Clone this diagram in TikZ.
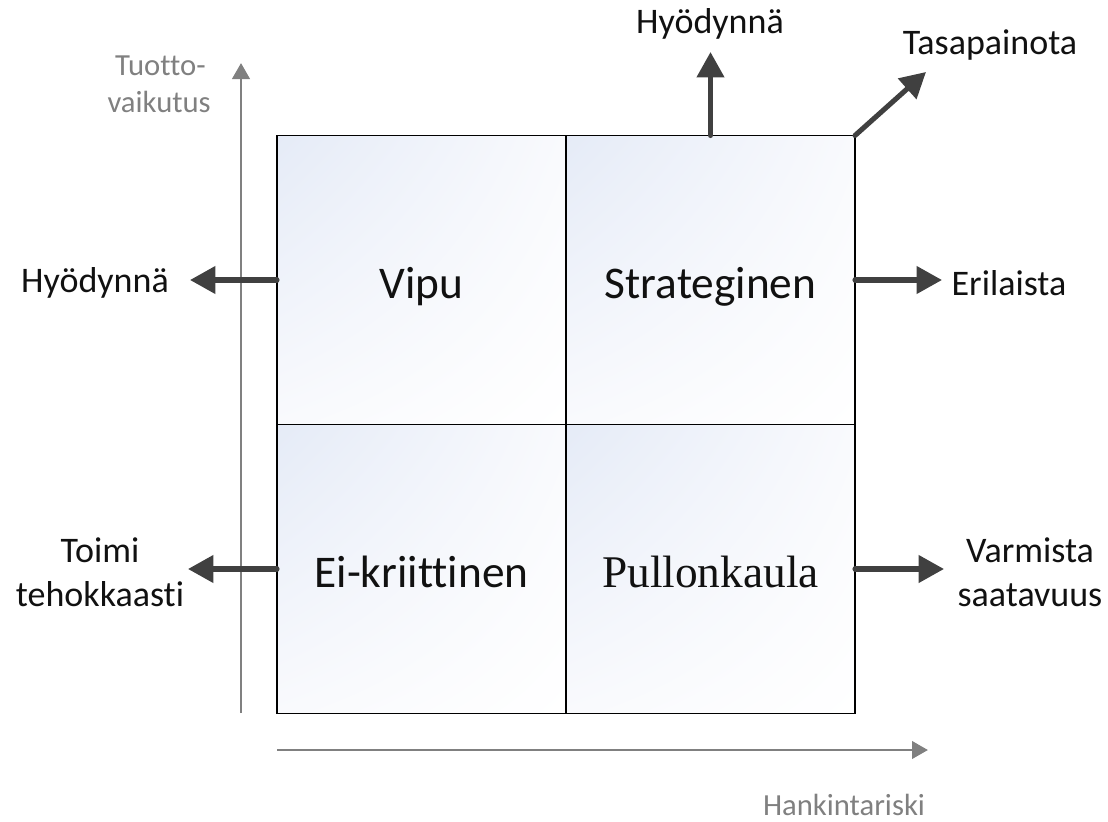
\documentclass[tikz,border=0pt]{standalone}
\usepackage{fontspec}
\setmainfont[Ligatures=NoCommon]{Carlito}
\newfontfamily\serifface{Liberation Serif}
\usetikzlibrary{arrows.meta,shadings}
\definecolor{axisgray}{HTML}{808080}
\definecolor{arrowdark}{HTML}{404040}
\definecolor{inkblack}{HTML}{111111}
\definecolor{tintA}{HTML}{E5EBF7}
\definecolor{tintB}{HTML}{F9FAFD}
\tikzset{
  quad/.style={draw=black, line width=1.3pt, minimum width=216.75pt, minimum height=216.75pt,
    inner sep=0pt, outer sep=0pt, shade, upper left=tintA, upper right=tintB,
    lower left=tintB, lower right=white, font=\fontsize{34}{40}\selectfont, text=inkblack,
    text height=27pt, text depth=0pt},
  move/.style={draw=arrowdark, line width=3.8pt, line cap=round,
    -{Triangle[length=19pt,width=20pt]}},
  axis/.style={draw=axisgray, line width=2.2pt, -{Triangle[length=12pt,width=13pt]}},
  lbl/.style={font=\fontsize{27}{33}\selectfont, text=inkblack, align=center, inner sep=0pt},
  axlbl/.style={font=\fontsize{23}{28}\selectfont, text=axisgray, inner sep=0pt}
}
\begin{document}
\begin{tikzpicture}[x=0.75pt, y=-0.75pt]
  \useasboundingbox (0,0) rectangle (1108,822);

  % four quadrants of the matrix
  \node[quad] (vipu)  at (421.5,280) {Vipu};
  \node[quad] (strat) at (710.5,280) {Strateginen};
  \node[quad] (eikr)  at (421.5,569) {Ei-kriittinen};
  \node[quad] (pull)  at (710.5,569) {\serifface Pullonkaula};

  % axes
  \coordinate (yaxisfoot) at (241,713);
  \coordinate (yaxistip)  at (241,63);
  \coordinate (xaxisfoot) at (277,750);
  \coordinate (xaxistip)  at (928,750);
  \draw[axis] (yaxisfoot) -- (yaxistip);
  \draw[axis] (xaxisfoot) -- (xaxistip);
  \node[axlbl, anchor=east] (ylab1) at (206,66) {Tuotto-};
  \node[axlbl, anchor=east] (ylab2) at (211,102) {vaikutus};
  \node[axlbl] (xlab) at (844,805) {Hankintariski};

  % strategy labels
  \node[lbl] (lvipu)   at (95,283)   {Hyödynnä};
  \node[lbl] (lstrat)  at (1009,283) {Erilaista};
  \node[lbl] (leikr)   at (100,572)  {Toimi\\tehokkaasti};
  \node[lbl] (lpull)   at (1030,572) {Varmista\\saatavuus};
  \node[lbl] (ltop)    at (710,24)   {Hyödynnä};
  \node[lbl] (ldiag)   at (990,45)   {Tasapainota};

  % arrow end points
  \coordinate (tvipu)  at (190,280);
  \coordinate (tstrat) at (942,280);
  \coordinate (teikr)  at (188,569);
  \coordinate (tpull)  at (944,569);
  \coordinate (ttop)   at (710.5,52);
  \coordinate (tdiag)  at (926,72);

  \draw[move] (vipu.west) -- (tvipu);
  \draw[move] (strat.east) -- (tstrat);
  \draw[move] (eikr.west) -- (teikr);
  \draw[move] (pull.east) -- (tpull);
  \draw[move] (strat.north) -- (ttop);
  \draw[move] (strat.north east) -- (tdiag);
\end{tikzpicture}
\end{document}
